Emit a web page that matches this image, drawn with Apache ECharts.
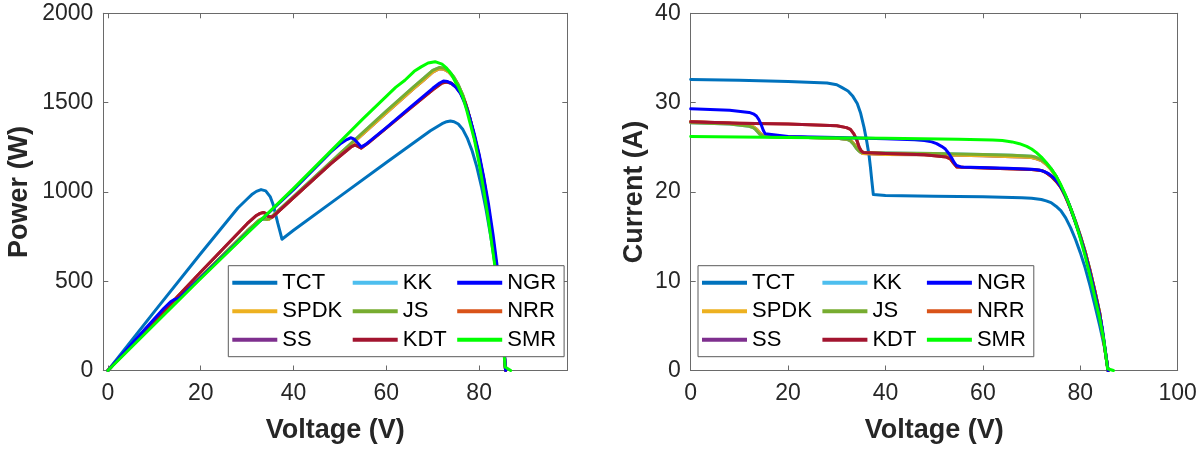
<!DOCTYPE html>
<html>
<head>
<meta charset="utf-8">
<script src="https://cdn.jsdelivr.net/npm/echarts@6/dist/echarts.min.js"></script>
<style>
html,body{margin:0;padding:0;background:#fff;}
#main{width:1200px;height:454px;}
</style>
</head>
<body>
<div id="main"></div>
<script>
// ---------- DATA ----------
const legendOrder = ['TCT','SPDK','SS','KK','JS','KDT','NGR','NRR','SMR'];
const drawOrder   = ['TCT','KK','SS','SPDK','JS','NRR','KDT','NGR','SMR'];
const colors = {TCT:'#0072BD',SPDK:'#EDB120',SS:'#7E2F8E',KK:'#4DBEEE',JS:'#77AC30',KDT:'#A2142F',NGR:'#0000FF',NRR:'#D95319',SMR:'#00FF00'};

const xTicksP = [0,20,40,60,80];
const yTicksP = [0,500,1000,1500,2000];
const xTicksI = [0,20,40,60,80,100];
const yTicksI = [0,10,20,30,40];

// TCT  (I-V)
const tctV = [0,10,20,28,30,31,32.3,33.3,34.2,34.9,35.6,36.1,36.6,36.9,37.2,37.5,40,50,60,68,70,72,73,74,75,76,77,78,79,80,81,82,83,84,85,85.7];
const tctI = [32.6,32.5,32.35,32.2,32.0,31.7,31.3,30.7,29.9,28.8,27.2,25.8,24.2,22.8,21.2,19.7,19.6,19.5,19.45,19.35,19.3,19.15,19.0,18.8,18.4,17.9,17.1,16.0,14.7,13.2,11.5,9.5,7.3,5.0,2.5,0];
// TCT  (P-V)
const tctPV = [0,10,20,28,30,31,32,33,34,35,35.6,36.1,36.6,37.2,37.5,40,50,60,69.5,72,73,73.8,74.6,75.5,76.5,77.5,78.5,79.5,80.5,81.5,82.5,83.5,84.5,85.7];
const tctP  = [0,330,655,910,960,985,1003,1013,1006,972,930,879,825,766,735,785,975,1165,1342,1382,1393,1397,1393,1380,1349,1298,1229,1140,1030,900,750,580,380,0];

// SMR
const smrV = [0,20,40,55,62,64,66,67.5,69,70,71,72,73,74,75,76,77,78,79,80,81,82,83,84,84.8,85.6,86.8];
const smrI = [26.2,26.1,26.0,25.9,25.8,25.75,25.6,25.4,25.1,24.8,24.4,23.9,23.3,22.6,21.8,20.8,19.6,18.2,16.6,14.8,12.8,10.6,8.2,5.8,3.5,0.2,0];
const smrPV = [0,20,40,55,62,64,66,67.5,69,70.5,72,73,74,75,75.5,76.5,77.3,78,79,80,81,82,83,84,84.8,85.6,86.8];
const smrP  = [0,515,1020,1410,1585,1625,1675,1700,1722,1729,1715,1693,1660,1610,1590,1530,1459,1390,1290,1160,1010,845,660,470,280,20,0];

// NGR
const ngrV = [0,8,12,13,13.5,14,14.5,14.9,15.3,15.7,20,30,40,46,48,49.5,50.5,51.5,52.3,53,53.6,54.1,54.6,55.5,65,70,71.5,72.5,73.5,74.5,75.5,76.5,77.5,78.5,79.5,80.5,81.5,82.5,83.5,84.5,85.7];
const ngrI = [29.3,29.15,28.9,28.7,28.5,28.1,27.5,26.9,26.5,26.3,26.2,26.1,25.95,25.85,25.75,25.6,25.4,25.1,24.8,24.3,23.8,23.3,22.95,22.8,22.65,22.55,22.45,22.3,22.05,21.6,21.0,20.1,18.9,17.4,15.8,14.0,12.0,9.8,7.4,4.8,0];
const ngrPV = [0,8,12,13.5,14.3,14.9,15.5,20,30,40,48,50,51.5,52.3,53,53.8,54.6,55.5,60,65,70,71.5,72.3,73.2,74,75,76,77,78,79,80,81,82,83,84,84.8,85.7];
const ngrP  = [0,233,347,385,398,401,408,520,770,1012,1222,1268,1293,1303,1297,1275,1252,1265,1360,1470,1580,1610,1621,1618,1608,1585,1550,1492,1415,1320,1210,1080,935,760,560,380,0];

// NRR
const nrrV = [0,10,20,30,32,32.8,33.5,34.1,34.6,35,35.5,40,48,51,52.5,53.3,54,54.6,56,65,70,72,73,74,75,76,77,78,79,80,81,82,83,84,85.7];
const nrrI = [27.85,27.7,27.6,27.4,27.2,27.0,26.5,25.8,25.0,24.6,24.4,24.3,24.15,24.0,23.9,23.7,23.2,22.8,22.75,22.6,22.5,22.4,22.15,21.75,21.2,20.5,19.5,18.1,16.6,15.0,13.2,11.1,8.8,6.3,0];
const nrrPV = [0,10,20,30,32,32.8,33.5,34.1,34.6,35,35.5,40,48,51,52.5,53.3,54,54.6,56,65,70,72,73,74,75,76,77,78,79,80,81,82,83,84,85.7];
const nrrP = [0,277,552,822,868,880,885,878,862,852,860,968,1157,1222,1254,1263,1253,1245,1272,1465,1572,1610,1615,1608,1588,1555,1500,1412,1310,1200,1070,910,730,530,0];

// KDT
const kdtV = [0,10,20,30,32,32.8,33.5,34.1,34.6,35,35.5,40,48,51,52.5,53.3,54,54.6,56,65,70,72,73,74,75,76,77,78,79,80,81,82,83,84,85.7];
const kdtI = [27.85,27.7,27.6,27.4,27.2,27.0,26.5,25.8,25.0,24.6,24.4,24.3,24.15,24.0,23.9,23.7,23.2,22.8,22.75,22.6,22.5,22.4,22.15,21.75,21.2,20.5,19.5,18.1,16.6,15.0,13.2,11.1,8.8,6.3,0];
const kdtPV = [0,10,20,30,32,32.8,33.5,34.1,34.6,35,35.5,40,48,51,52.5,53.3,54,54.6,56,65,70,72,73,74,75,76,77,78,79,80,81,82,83,84,85.7];
const kdtP = [0,277,552,822,868,880,885,878,862,852,860,968,1157,1222,1254,1263,1253,1245,1272,1465,1572,1610,1615,1608,1588,1555,1500,1412,1310,1200,1070,910,730,530,0];

// JS
const jsV = [0,8,12,12.8,13.3,13.7,14.1,14.5,15,20,30,32,32.8,33.5,34,34.5,35,40,50,60,66,68,70,71,72,73,74,75,76,77,78,79,80,81,82,83,84,85.7];
const jsI = [27.75,27.6,27.35,27.2,27.0,26.75,26.5,26.3,26.2,26.15,26.0,25.9,25.7,25.3,24.9,24.6,24.4,24.35,24.3,24.2,24.1,24.05,24.0,23.85,23.6,23.2,22.6,21.8,20.7,19.5,18.2,16.7,15.1,13.3,11.2,8.9,6.4,0];
const jsPV = [0,8,12,13.3,14.1,15,20,30,32.5,33.5,34.3,35,40,50,60,66,68,70,71.4,72.5,73.5,74.5,75.5,76.5,77.5,78.5,79.5,80.5,81.5,82.5,83.5,84.5,85.7];
const jsP = [0,221,328,359,374,393,523,780,839,848,847,854,974,1215,1452,1591,1635,1680,1696,1692,1675,1645,1600,1540,1460,1360,1245,1115,965,800,615,400,0];

// KK
const kkV = [0,8,12,12.8,13.3,13.7,14.1,14.5,15,20,30,32,32.8,33.5,34,34.5,35,40,50,60,66,68,70,71,72,73,74,75,76,77,78,79,80,81,82,83,84,85.7];
const kkI = [27.75,27.6,27.35,27.2,27.0,26.75,26.5,26.3,26.2,26.15,26.0,25.9,25.7,25.3,24.9,24.6,24.4,24.35,24.3,24.2,24.1,24.05,24.0,23.85,23.6,23.2,22.6,21.8,20.7,19.5,18.2,16.7,15.1,13.3,11.2,8.9,6.4,0];
const kkPV = [0,8,12,13.3,14.1,15,20,30,32.5,33.5,34.3,35,40,50,60,66,68,70,71.4,72.5,73.5,74.5,75.5,76.5,77.5,78.5,79.5,80.5,81.5,82.5,83.5,84.5,85.7];
const kkP = [0,221,328,359,374,393,523,780,839,848,847,854,974,1215,1452,1591,1635,1680,1696,1692,1675,1645,1600,1540,1460,1360,1245,1115,965,800,615,400,0];

// SPDK
const spdkV = [0,8,12,13,13.6,14,14.4,14.8,15.2,20,30,32.3,33,33.8,34.3,34.8,35.3,40,50,60,66,68,70,71,72,73,74,75,76,77,78,79,80,81,82,83,84,85.7];
const spdkI = [27.85,27.7,27.45,27.25,27.0,26.75,26.5,26.3,26.2,26.15,26.0,25.9,25.7,25.2,24.8,24.5,24.3,24.2,24.15,24.05,23.95,23.9,23.85,23.7,23.5,23.1,22.5,21.7,20.6,19.4,18.2,16.7,15.1,13.3,11.2,8.9,6.4,0];
const spdkPV = [0,8,12,13.6,14.4,15.2,20,30,32.8,33.8,34.6,35.3,40,50,60,66,68,70,71.4,72.5,73.5,74.5,75.5,76.5,77.5,78.5,79.5,80.5,81.5,82.5,83.5,84.5,85.7];
const spdkP = [0,222,329,367,382,398,523,780,846,852,845,858,968,1208,1443,1581,1625,1670,1690,1686,1670,1640,1597,1538,1460,1360,1245,1115,965,800,615,400,0];

// SS
const ssV = [0,8,12,13,13.6,14,14.4,14.8,15.2,20,30,32.3,33,33.8,34.3,34.8,35.3,40,50,60,66,68,70,71,72,73,74,75,76,77,78,79,80,81,82,83,84,85.7];
const ssI = [27.85,27.7,27.45,27.25,27.0,26.75,26.5,26.3,26.2,26.15,26.0,25.9,25.7,25.2,24.8,24.5,24.3,24.2,24.15,24.05,23.95,23.9,23.85,23.7,23.5,23.1,22.5,21.7,20.6,19.4,18.2,16.7,15.1,13.3,11.2,8.9,6.4,0];
const ssPV = [0,8,12,13.6,14.4,15.2,20,30,32.8,33.8,34.6,35.3,40,50,60,66,68,70,71.4,72.5,73.5,74.5,75.5,76.5,77.5,78.5,79.5,80.5,81.5,82.5,83.5,84.5,85.7];
const ssP = [0,222,329,367,382,398,523,780,846,852,845,858,968,1208,1443,1581,1625,1670,1690,1686,1670,1640,1597,1538,1460,1360,1245,1115,965,800,615,400,0];

const seriesData = {
  TCT:{v:tctV,i:tctI,pv:tctPV,p:tctP}, SMR:{v:smrV,i:smrI,pv:smrPV,p:smrP}, NGR:{v:ngrV,i:ngrI,pv:ngrPV,p:ngrP},
  NRR:{v:nrrV,i:nrrI,pv:nrrPV,p:nrrP}, KDT:{v:kdtV,i:kdtI,pv:kdtPV,p:kdtP}, JS:{v:jsV,i:jsI,pv:jsPV,p:jsP},
  KK:{v:kkV,i:kkI,pv:kkPV,p:kkP}, SPDK:{v:spdkV,i:spdkI,pv:spdkPV,p:spdkP}, SS:{v:ssV,i:ssI,pv:ssPV,p:ssP}
};

// ---------- CHART ----------
const FONT = '"Liberation Sans", Arial, sans-serif';
const AX = '#262626';
const LINE = '#6a6a6a';
const chart = echarts.init(document.getElementById('main'), null, {renderer:'canvas'});

function pairs(v, arr){ return v.map((x,k)=>[x, arr[k]]); }

const grids = [
  {left:103.3, top:13.3, width:464, height:357.2},
  {left:690.7, top:13.3, width:487, height:357.2}
];

function baseAxis(gi, min, max, ticks){
  return {
    gridIndex:gi, type:'value', min:min, max:max,
    axisLine:{show:true, onZero:false, lineStyle:{color:LINE, width:1}},
    splitLine:{show:false},
    axisTick:{show:true, inside:true, length:5, customValues:ticks, lineStyle:{color:LINE}}
  };
}
function xAxisPair(gi, min, max, ticks, name){
  const b = baseAxis(gi, min, max, ticks);
  return [
    Object.assign({}, b, {position:'bottom',
      axisLabel:{show:true, customValues:ticks, formatter:(v)=>String(v), color:AX, fontSize:23, fontFamily:FONT, margin:12},
      name:name, nameLocation:'middle', nameGap:47,
      nameTextStyle:{color:AX, fontSize:27, fontWeight:'bold', fontFamily:FONT}}),
    Object.assign({}, b, {position:'top', axisLabel:{show:false}})
  ];
}
function yAxisPair(gi, min, max, ticks, name, gap){
  const b = baseAxis(gi, min, max, ticks);
  return [
    Object.assign({}, b, {position:'left',
      axisLabel:{show:true, customValues:ticks, formatter:(v)=>String(v), color:AX, fontSize:23, fontFamily:FONT, margin:10},
      name:name, nameLocation:'middle', nameGap:gap,
      nameTextStyle:{color:AX, fontSize:27, fontWeight:'bold', fontFamily:FONT}}),
    Object.assign({}, b, {position:'right', axisLabel:{show:false}})
  ];
}

const xAxes = [].concat(
  xAxisPair(0, -1, 99, xTicksP, 'Voltage (V)'),
  xAxisPair(1, 0, 100, xTicksI, 'Voltage (V)')
);
const yAxes = [].concat(
  yAxisPair(0, 0, 2000, yTicksP, 'Power (W)', 70),
  yAxisPair(1, 0, 40, yTicksI, 'Current (A)', 43)
);

const series = [];
drawOrder.forEach((nm, k)=>{
  const d = seriesData[nm];
  const common = {name:nm, type:'line', showSymbol:false, symbol:'none', smooth:false,
    lineStyle:{width:3, color:colors[nm], join:'round', cap:'round'}, itemStyle:{color:colors[nm]},
    z:2+k*0.01, animation:false, clip:true};
  series.push(Object.assign({}, common, {xAxisIndex:0, yAxisIndex:0, data:pairs(d.pv, d.p)}));
  series.push(Object.assign({}, common, {xAxisIndex:2, yAxisIndex:2, data:pairs(d.v, d.i)}));
});

function legendAt(left){
  return {
    data:legendOrder, orient:'vertical', left:left, top:265.7, height:82,
    padding:[5,2,5,4], itemGap:4.5, itemWidth:45, itemHeight:4, icon:'rect',
    borderColor:'#5a5a5a', borderWidth:1, backgroundColor:'#ffffff',
    selectedMode:false,
    textStyle:{color:'#000', fontSize:22, fontFamily:FONT, lineHeight:24, padding:[0,6,0,0]}
  };
}

chart.setOption({
  backgroundColor:'#ffffff',
  animation:false,
  grid:grids,
  xAxis:xAxes,
  yAxis:yAxes,
  legend:[legendAt(228.3), legendAt(698)],
  series:series
});
</script>
</body>
</html>
